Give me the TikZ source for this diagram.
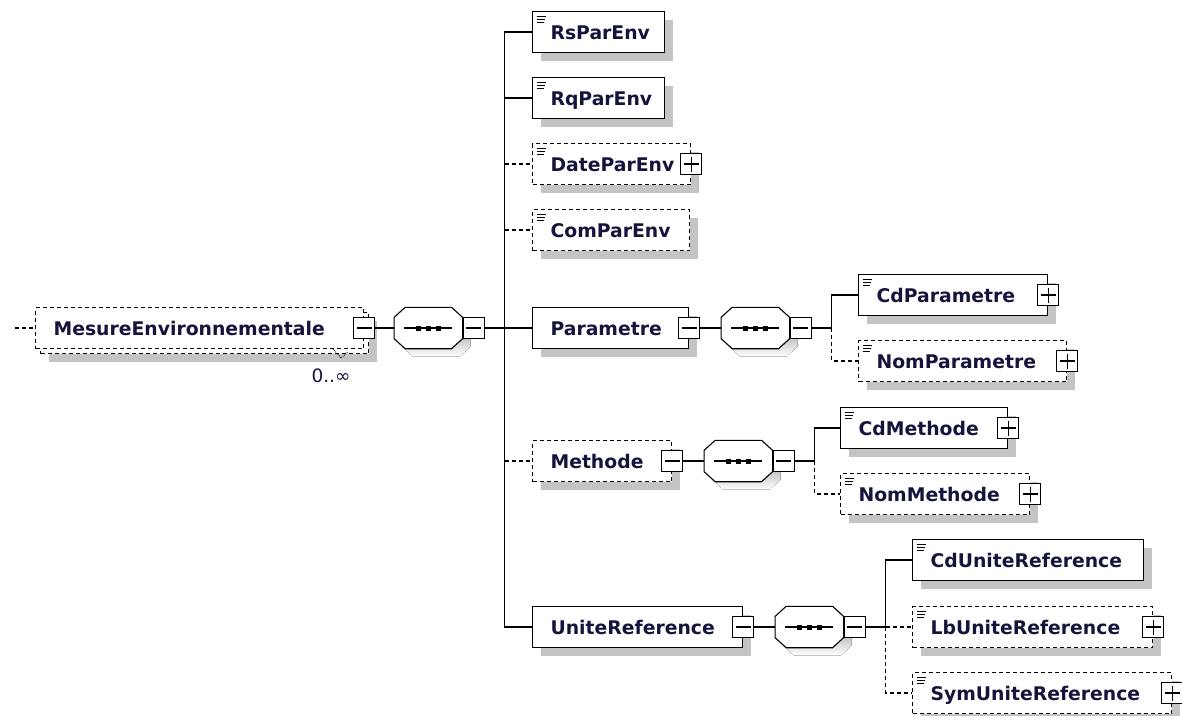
\documentclass[tikz,border=0pt]{standalone}
\usepackage{fontspec}
\setmainfont{DejaVu Sans}
\usepackage{tikz}
\usetikzlibrary{shapes,shadows,positioning}
\hyphenpenalty=10000
\definecolor{shade}{RGB}{196,196,196}
\definecolor{ink}{RGB}{20,20,60}
\tikzset{
  conn/.style={line width=1.1pt},
  opt/.style={dash pattern=on 4pt off 3pt},
  shad/.style={drop shadow={shadow xshift=8pt,shadow yshift=-8pt,fill=shade,opacity=1}},
  box/.style={draw,fill=white,line width=1.1pt,anchor=west,minimum height=41pt,
    inner xsep=18pt,inner ysep=0pt,align=left,text height=14pt,text depth=0pt,
    font=\bfseries\fontsize{18.8}{22}\selectfont,text=ink},
  elem/.style={box,shad},
  leaf/.style={path picture={
      \draw[solid,line width=1.2pt]
        ([xshift=4pt,yshift=-5pt]path picture bounding box.north west) -- +(9pt,0pt)
        ([xshift=4pt,yshift=-8pt]path picture bounding box.north west) -- +(8pt,0pt)
        ([xshift=4pt,yshift=-11pt]path picture bounding box.north west) -- +(7pt,0pt);}},
  expm/.style={draw,fill=white,line width=1.1pt,minimum width=21pt,minimum height=21pt,inner sep=0pt,
    path picture={\draw[solid,line width=1.1pt] ([xshift=3pt]path picture bounding box.west)
      -- ([xshift=-3pt]path picture bounding box.east);}},
  expp/.style={draw,fill=white,line width=1.1pt,minimum width=21pt,minimum height=21pt,inner sep=0pt,
    path picture={\draw[solid,line width=1.1pt] ([xshift=3pt]path picture bounding box.west)
      -- ([xshift=-3pt]path picture bounding box.east)
      ([yshift=-3pt]path picture bounding box.north) -- ([yshift=3pt]path picture bounding box.south);}},
  seq/.style={draw=none,minimum width=68pt,minimum height=41pt,inner sep=0pt}
}
% octagon round a sequence node, shifted by #2
\newcommand{\octpath}[2]{([shift={#2},xshift=11pt]#1.north west) -- ([shift={#2},xshift=-11pt]#1.north east)
  -- ([shift={#2},yshift=-10pt]#1.north east) -- ([shift={#2},yshift=10pt]#1.south east)
  -- ([shift={#2},xshift=-11pt]#1.south east) -- ([shift={#2},xshift=11pt]#1.south west)
  -- ([shift={#2},yshift=10pt]#1.south west) -- ([shift={#2},yshift=-10pt]#1.north west) -- cycle}
\newcommand{\seqbox}[1]{%
  \fill[shade] \octpath{#1}{(8pt,-8pt)};
  \draw[line width=1.1pt,fill=white] \octpath{#1}{(0pt,0pt)};
  \draw[line width=1.1pt] ([xshift=-24pt]#1.center) -- ([xshift=24pt]#1.center);
  \foreach \dx in {-10,0,10}
    \fill ([xshift=\dx pt]#1.center) +(-2.5pt,-2.5pt) rectangle +(2.5pt,2.5pt);}

\begin{document}
\begin{tikzpicture}[x=1pt,y=-1pt]
  \useasboundingbox (0,0) rectangle (1182,715);

  % root element (0..unbounded)
  \node[elem,opt,text width=292pt] (rootb) at (40,333) {};
  \node[box,opt,text width=292pt] (root) at (35,328) {MesureEnvironnementale};
  \node[expm] (rootx) at (root.east) {};
  \node[font=\fontsize{18.5}{20}\selectfont,text=ink] (rootocc) at (331,376) {0..∞};
  \draw[densely dotted,line width=0.8pt] (333,349) -- (341,358) -- (348,352);
  \coordinate (rootin) at (15,328);

  \node[seq,right=19pt of rootx] (seqA) {};
  \seqbox{seqA}
  \node[expm,anchor=west] (seqAx) at (seqA.east) {};
  \coordinate[right=20pt of seqAx] (tA);

  % children of the first sequence
  \node[elem,leaf,text width=96pt] (rs) at (532,32) {RsParEnv};
  \node[elem,leaf,text width=96pt] (rq) at (532,98) {RqParEnv};
  \node[elem,leaf,opt,text width=122pt] (date) at (532,164) {DateParEnv};
  \node[expp] (datex) at (date.east) {};
  \node[elem,leaf,opt,text width=121pt] (com) at (532,230) {ComParEnv};
  \node[elem,text width=120pt] (parm) at (532,328) {Parametre};
  \node[expm] (parmx) at (parm.east) {};
  \node[elem,opt,text width=103pt] (meth) at (532,461) {Methode};
  \node[expm] (methx) at (meth.east) {};
  \node[elem,text width=174pt] (unite) at (532,627) {UniteReference};
  \node[expm] (unitex) at (unite.east) {};

  % Parametre
  \node[seq,right=21pt of parmx] (seqB) {};
  \seqbox{seqB}
  \node[expm,anchor=west] (seqBx) at (seqB.east) {};
  \coordinate[right=20pt of seqBx] (tB);
  \node[elem,leaf,text width=153pt] (cdparm) at (858,295) {CdParametre};
  \node[expp] (cdparmx) at (cdparm.east) {};
  \node[elem,leaf,opt,text width=172pt] (nomparm) at (858,361) {NomParametre};
  \node[expp] (nomparmx) at (nomparm.east) {};

  % Methode
  \node[seq,right=21pt of methx] (seqC) {};
  \seqbox{seqC}
  \node[expm,anchor=west] (seqCx) at (seqC.east) {};
  \coordinate[right=20pt of seqCx] (tC);
  \node[elem,leaf,text width=131pt] (cdmeth) at (840,428) {CdMethode};
  \node[expp] (cdmethx) at (cdmeth.east) {};
  \node[elem,leaf,opt,text width=153pt] (nommeth) at (840,494) {NomMethode};
  \node[expp] (nommethx) at (nommeth.east) {};

  % UniteReference
  \node[seq,right=21pt of unitex] (seqD) {};
  \seqbox{seqD}
  \node[expm,anchor=west] (seqDx) at (seqD.east) {};
  \coordinate[right=20pt of seqDx] (tD);
  \node[elem,leaf,text width=195pt] (cdunite) at (912,560) {CdUniteReference};
  \node[elem,leaf,opt,text width=204pt] (lbunite) at (912,627) {LbUniteReference};
  \node[expp] (lbunitex) at (lbunite.east) {};
  \node[elem,leaf,opt,text width=223pt] (symunite) at (912,693) {SymUniteReference};
  \node[expp] (symunitex) at (symunite.east) {};

  % connectors
  \draw[conn,opt] (rootin) -- (root.west);
  \draw[conn] (rootx.east) -- (seqA.west);
  \draw[conn] (seqAx.east) -- (tA);
  \draw[conn] (tA) |- (rs.west);
  \draw[conn] (tA) |- (rq.west);
  \draw[conn] (tA) -- (parm.west);
  \draw[conn] (tA) |- (unite.west);
  \draw[conn,opt] (date.west -| tA) -- (date.west);
  \draw[conn,opt] (com.west -| tA) -- (com.west);
  \draw[conn,opt] (meth.west -| tA) -- (meth.west);

  \draw[conn] (parmx.east) -- (seqB.west);
  \draw[conn] (seqBx.east) -- (tB);
  \draw[conn] (tB) |- (cdparm.west);
  \draw[conn,opt] (tB) |- (nomparm.west);

  \draw[conn] (methx.east) -- (seqC.west);
  \draw[conn] (seqCx.east) -- (tC);
  \draw[conn] (tC) |- (cdmeth.west);
  \draw[conn,opt] (tC) |- (nommeth.west);

  \draw[conn] (unitex.east) -- (seqD.west);
  \draw[conn] (seqDx.east) -- (tD);
  \draw[conn] (tD) |- (cdunite.west);
  \draw[conn,opt] (tD) -- (lbunite.west);
  \draw[conn,opt] (tD) |- (symunite.west);
\end{tikzpicture}
\end{document}
